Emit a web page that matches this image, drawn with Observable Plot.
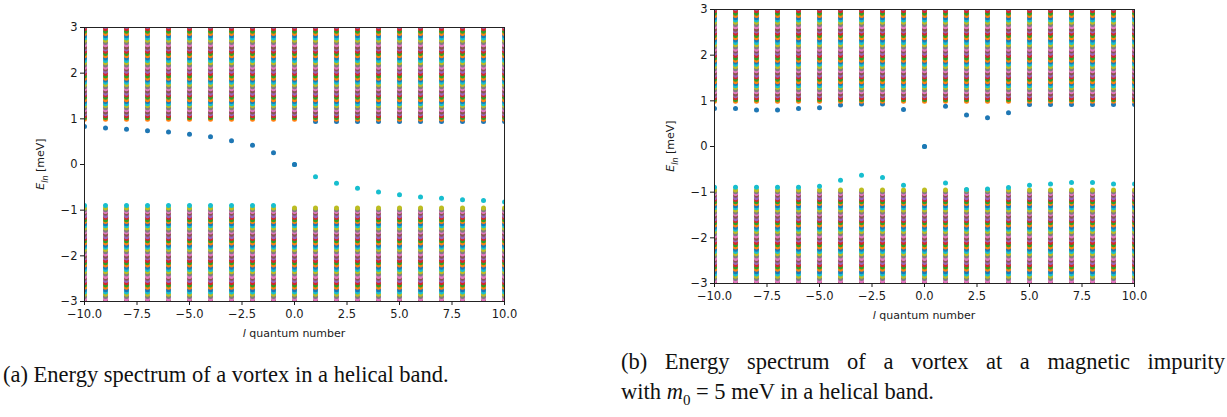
<!DOCTYPE html>
<html>
<head>
<meta charset="utf-8">
<script src="https://cdn.jsdelivr.net/npm/d3@7"></script>
<script src="https://cdn.jsdelivr.net/npm/@observablehq/plot@0.6"></script>
<style>
  html, body { margin: 0; padding: 0; background: #fff; }
  #root { position: relative; width: 1227px; height: 417px; overflow: hidden; }
  .panel { position: absolute; top: 0; }
  .cap { position: absolute; font-family: "Liberation Serif", "DejaVu Serif", serif; font-size: 22.5px; color: #111; white-space: nowrap; }
  .just { display: block; text-align: justify; text-align-last: justify; white-space: normal; }
</style>
</head>
<body>
<div id="root">
  <div id="pa" class="panel" style="left:0px"></div>
  <div id="pb" class="panel" style="left:630px"></div>
  <div class="cap" style="left:3px; top:362px;">(a) Energy spectrum of a vortex in a helical band.</div>
  <div class="cap" style="left:621px; top:349px; width:604px; white-space:normal;">
    <span class="just">(b) Energy spectrum of a vortex at a magnetic impurity</span>
    <span style="display:block; margin-top:4px;">with <i>m</i><sub style="font-size:15px">0</sub> = 5 meV in a helical band.</span>
  </div>
</div>
<script>
// ---- data ----
const lValues = [-10, -9, -8, -7, -6, -5, -4, -3, -2, -1, 0, 1, 2, 3, 4, 5, 6, 7, 8, 9, 10];
const xTicks = [-10, -7.5, -5, -2.5, 0, 2.5, 5, 7.5, 10];
const yTicks = [-3, -2, -1, 0, 1, 2, 3];
const colorIndex = [0, 1, 2, 3, 4, 5, 6, 7, 8, 9];
const tab10 = ["#1f77b4", "#ff7f0e", "#2ca02c", "#d62728", "#9467bd", "#8c564b", "#e377c2", "#7f7f7f", "#bcbd22", "#17becf"];

// continuum levels (positive band above the gap, negative band below it)
const bandUpper = [0.99, 1.03, 1.07, 1.11, 1.15, 1.20, 1.24, 1.29, 1.33, 1.38, 1.42, 1.47, 1.52, 1.56, 1.61, 1.66, 1.70, 1.75, 1.80, 1.85, 1.89, 1.94, 1.99, 2.04, 2.09, 2.13, 2.18, 2.23, 2.28, 2.33, 2.38, 2.43, 2.48, 2.53, 2.57, 2.62, 2.67, 2.72, 2.77, 2.82, 2.87, 2.92, 2.97, 3.02];
const bandLower = [-0.95, -0.99, -1.03, -1.07, -1.12, -1.16, -1.21, -1.25, -1.30, -1.34, -1.39, -1.44, -1.48, -1.53, -1.58, -1.62, -1.67, -1.72, -1.77, -1.81, -1.86, -1.91, -1.96, -2.01, -2.05, -2.10, -2.15, -2.20, -2.25, -2.30, -2.35, -2.40, -2.45, -2.49, -2.54, -2.59, -2.64, -2.69, -2.74, -2.79, -2.84, -2.89, -2.94, -2.99, -3.04];

// (a) lowest positive / highest negative state for each l
const firstPosA = [0.83, 0.80, 0.77, 0.74, 0.71, 0.66, 0.61, 0.52, 0.42, 0.26, 0.00, 0.94, 0.94, 0.94, 0.94, 0.94, 0.94, 0.94, 0.94, 0.94, 0.94];
const firstNegA = [-0.90, -0.90, -0.90, -0.90, -0.90, -0.90, -0.90, -0.90, -0.90, -0.90, 0.00, -0.27, -0.41, -0.52, -0.60, -0.66, -0.71, -0.74, -0.77, -0.79, -0.82];

// (b) magnetic impurity m0 = 5 meV
const firstPosB = [0.83, 0.83, 0.80, 0.80, 0.83, 0.85, 0.91, 0.93, 0.93, 0.81, 0.00, 0.88, 0.69, 0.63, 0.74, 0.92, 0.92, 0.92, 0.92, 0.92, 0.92];
const firstNegB = [-0.89, -0.89, -0.89, -0.89, -0.89, -0.87, -0.74, -0.63, -0.68, -0.85, 0.00, -0.80, -0.94, -0.93, -0.90, -0.85, -0.82, -0.79, -0.79, -0.82, -0.82];

function buildStates(firstPos, firstNeg) {
  const rows = [];
  lValues.forEach((l, i) => {
    const pos = [firstPos[i], ...bandUpper];
    const neg = [firstNeg[i], ...bandLower];
    pos.forEach((E, k) => rows.push({l, E, n: k, c: k % 10}));
    neg.forEach((E, k) => rows.push({l, E, n: -1 - k, c: 9 - (k % 10)}));
  });
  rows.sort((a, b) => a.n - b.n);
  return rows;
}

function makePanel(el, data, top) {
  const H = top + 274;
  const chart = Plot.plot({
    width: 520,
    height: H + 45,
    marginLeft: 84,
    marginRight: 16,
    marginTop: top,
    marginBottom: 45,
    style: {fontFamily: "DejaVu Sans", fontSize: "11.5px", color: "#1a1a1a", background: "transparent"},
    x: {domain: [-10, 10], label: null},
    y: {domain: [-3, 3], label: null},
    color: {type: "ordinal", domain: colorIndex, range: tab10},
    marks: [
      Plot.dot(data, {x: "l", y: "E", fill: "c", r: 2.5, clip: true}),
      Plot.frame({stroke: "#222", strokeWidth: 1}),
      Plot.axisX({ticks: xTicks, tickFormat: d3.format(".1f"), tickSize: 4, tickPadding: 4, label: null}),
      Plot.axisY({ticks: yTicks, tickFormat: d3.format("d"), tickSize: 4, tickPadding: 3, label: null})
    ]
  });
  el.appendChild(chart);
  const svg = d3.select(chart);
  // y label
  const yl = svg.append("text")
    .attr("transform", `translate(41,${top + 137}) rotate(-90)`)
    .attr("text-anchor", "middle")
    .attr("dominant-baseline", "middle")
    .attr("font-family", "DejaVu Sans").attr("font-size", 11).attr("fill", "#1a1a1a");
  yl.append("tspan").attr("font-style", "italic").text("E");
  yl.append("tspan").attr("font-style", "italic").attr("font-size", 8).attr("baseline-shift", "sub").text("ln");
  yl.append("tspan").text(" [meV]");
  // x label
  const xl = svg.append("text")
    .attr("x", 84 + 210).attr("y", H + 36)
    .attr("text-anchor", "middle")
    .attr("font-family", "DejaVu Sans").attr("font-size", 11).attr("fill", "#1a1a1a");
  xl.append("tspan").attr("font-style", "italic").text("l");
  xl.append("tspan").text(" quantum number");
}

makePanel(document.getElementById("pa"), buildStates(firstPosA, firstNegA), 27);
makePanel(document.getElementById("pb"), buildStates(firstPosB, firstNegB), 9);
</script>
</body>
</html>
